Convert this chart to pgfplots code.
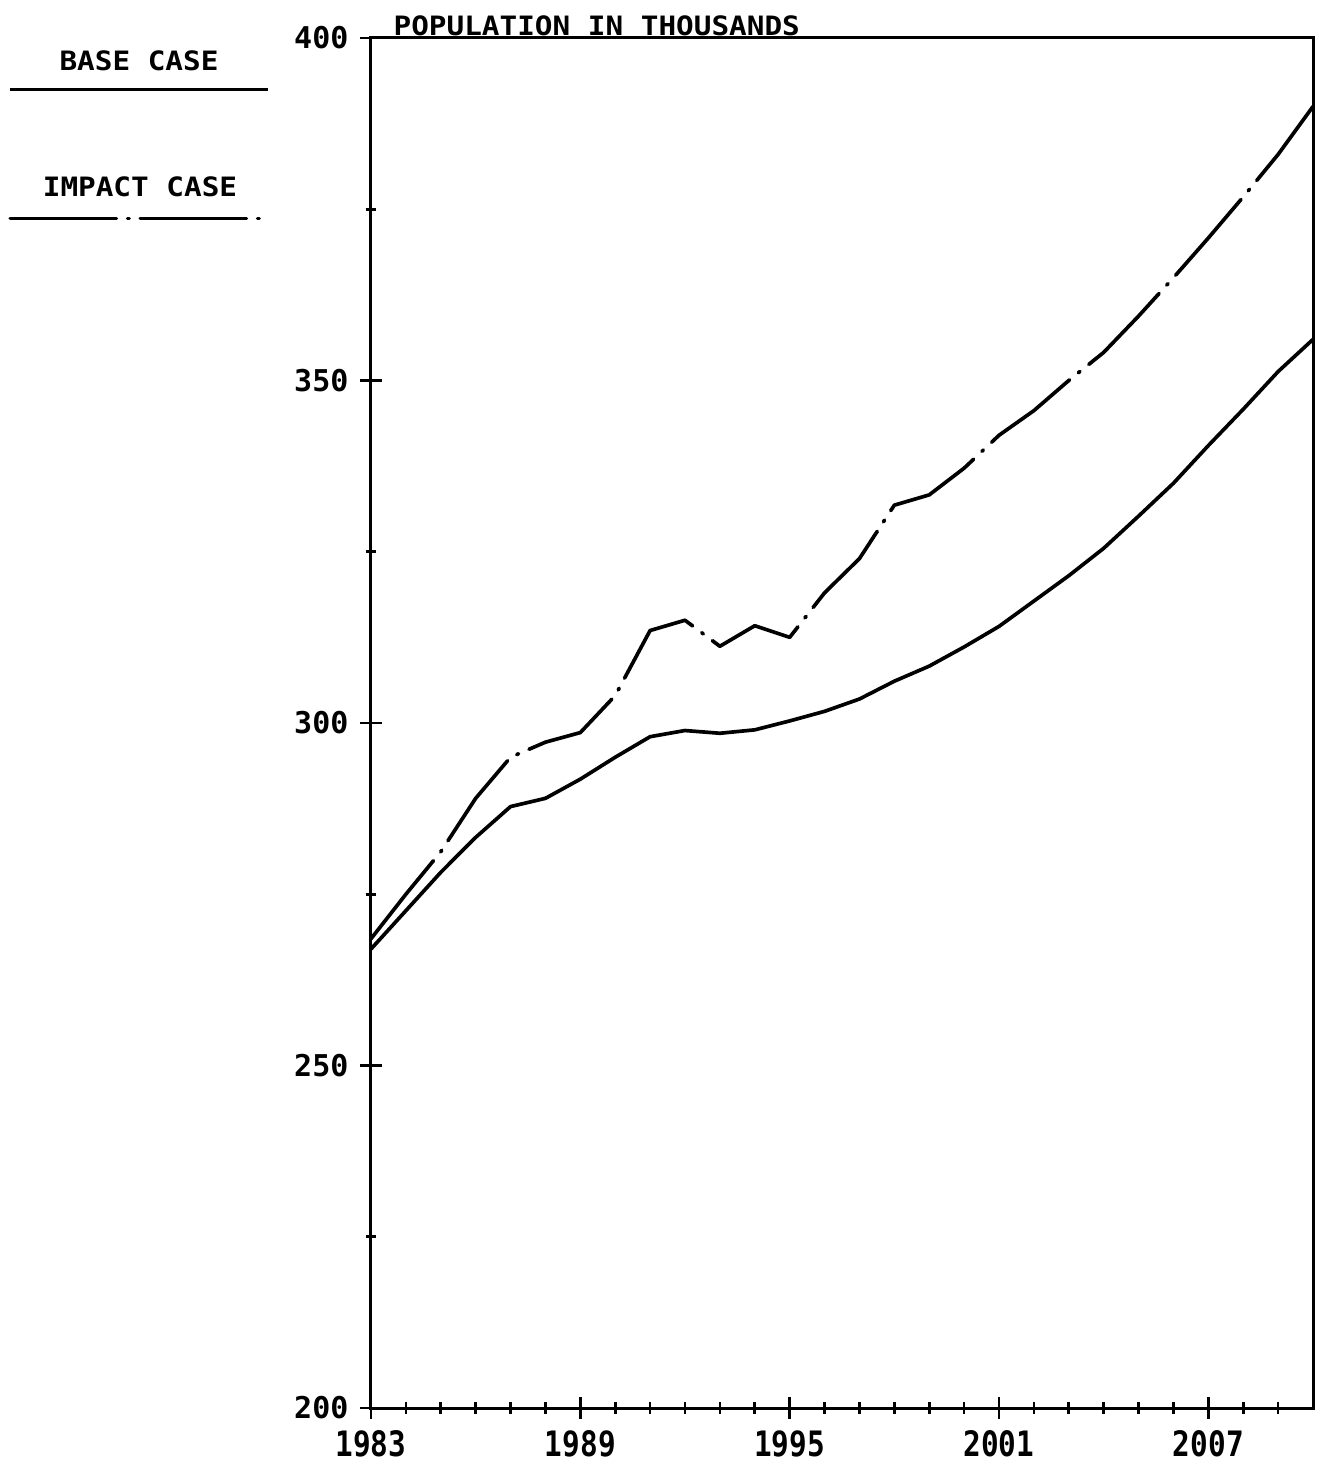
\documentclass[border=0pt]{standalone}
\usepackage{fontspec}
\usepackage{pgfplots}
\pgfplotsset{compat=1.18}
\newfontfamily\wideplot[FakeStretch=1.1]{DejaVu Sans Mono}
\newfontfamily\yplot[FakeStretch=1.0]{DejaVu Sans Mono}
\newfontfamily\yearplot[FakeStretch=0.84]{DejaVu Sans Mono}
\begin{document}
\begin{tikzpicture}
\begin{axis}[
  scale only axis, width=282.6pt, height=411pt,
  xmin=1983, xmax=2010, ymin=200, ymax=400,
  xtick={1983,1989,1995,2001,2007},
  minor xtick={1984,1985,1986,1987,1988,1990,1991,1992,1993,1994,1996,1997,1998,1999,2000,2002,2003,2004,2005,2006,2008,2009},
  ytick={200,250,300,350,400},
  minor ytick={225,275,325,375},
  tick align=center, xtick pos=bottom, ytick pos=left,
  major tick length=6.5pt, minor tick length=3.3pt,
  axis line style={line width=0.9pt},
  every tick/.style={black, line width=0.8pt},
  /pgf/number format/assume math mode=true,
  /pgf/number format/1000 sep={},
  x tick label style={font=\yearplot\bfseries\fontsize{10.5}{11}\selectfont},
  y tick label style={font=\yplot\bfseries\fontsize{9}{10}\selectfont},
  clip=false,
]
\addplot[black, line width=1.1pt, line join=round] table {
1983 267.0
1984 272.6
1985 278.2
1986 283.3
1987 287.8
1988 289.0
1989 291.8
1990 295.0
1991 298.0
1992 298.9
1993 298.5
1994 299.0
1995 300.3
1996 301.7
1997 303.5
1998 306.1
1999 308.3
2000 311.1
2001 314.1
2002 317.8
2003 321.5
2004 325.5
2005 330.2
2006 335.0
2007 340.5
2008 345.8
2009 351.3
2010 356.0
};
\addplot[black, line width=1.1pt, line join=round, line cap=round,
  dash pattern=on 30pt off 3.4pt on 0.6pt off 3.4pt] table {
1983 268.5
1984 275.0
1985 281.2
1986 289.0
1987 295.0
1988 297.2
1989 298.6
1990 304.0
1991 313.5
1992 315.0
1993 311.2
1994 314.2
1995 312.5
1996 319.0
1997 324.0
1998 331.8
1999 333.3
2000 337.2
2001 342.0
2002 345.6
2003 350.0
2004 354.1
2005 359.4
2006 365.0
2007 370.8
2008 376.8
2009 383.0
2010 390.0
};
\node[anchor=base west, inner sep=0pt, xshift=6.6pt, yshift=0.8pt,
  font=\wideplot\bfseries\fontsize{8}{9}\selectfont] at (rel axis cs:0,1) {POPULATION IN THOUSANDS};
\end{axis}
\node[font=\wideplot\bfseries\fontsize{8}{9}\selectfont, inner sep=0pt] at (-69.6pt,404.1pt) {BASE CASE};
\draw[line width=0.9pt] (-108.3pt,395.4pt) -- (-30.9pt,395.4pt);
\node[font=\wideplot\bfseries\fontsize{8}{9}\selectfont, inner sep=0pt] at (-69.3pt,366.3pt) {IMPACT CASE};
\draw[line width=0.9pt, line cap=round, dash pattern=on 32pt off 3.2pt on 0.6pt off 3.2pt] (-108.3pt,356.7pt) -- (-31.5pt,356.7pt);
\pgfresetboundingbox
\path (-111.3pt,-19.5pt) rectangle (284.1pt,422.4pt);
\end{tikzpicture}
\end{document}
